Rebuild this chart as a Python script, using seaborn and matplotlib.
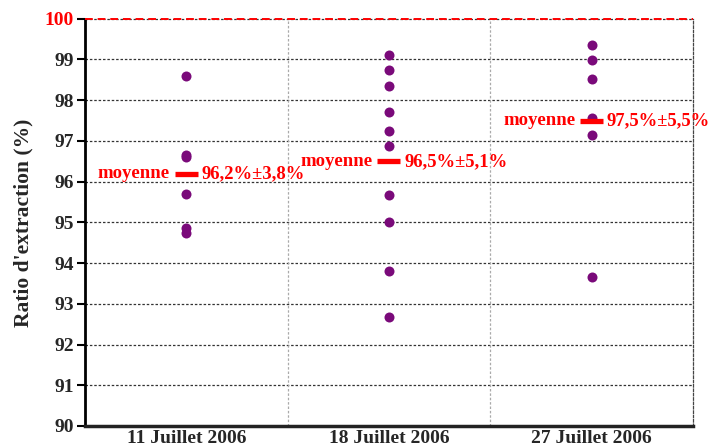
import numpy as np
import pandas as pd
import matplotlib
matplotlib.use("Agg")
import matplotlib.pyplot as plt
import seaborn as sns

# Extraction ratios (%) per sampling day
dates = ["11 Juillet 2006", "18 Juillet 2006", "27 Juillet 2006"]
ratios_11 = [98.6, 96.65, 96.6, 95.7, 94.85, 94.75]
ratios_18 = [99.12, 98.73, 98.35, 97.7, 97.25, 96.88, 95.68, 95.02, 93.81, 92.68]
ratios_27 = [99.36, 98.98, 98.52, 97.56, 97.15, 93.67]
means = [96.2, 96.5, 97.5]
spreads = [3.8, 5.1, 5.5]
yticks = [90, 91, 92, 93, 94, 95, 96, 97, 98, 99, 100]

df = pd.DataFrame({
    "date": [dates[0]] * len(ratios_11) + [dates[1]] * len(ratios_18) + [dates[2]] * len(ratios_27),
    "ratio": ratios_11 + ratios_18 + ratios_27,
})

sns.set_style("white")
plt.rcParams["font.family"] = ["Liberation Serif", "DejaVu Serif"]

fig = plt.figure(figsize=(7.11, 4.47), dpi=100)
ax = fig.add_axes([0.1195, 0.047, 0.855, 0.911])

purple = "#7a0a7a"
red = "#ff0000"

sns.stripplot(data=df, x="date", y="ratio", order=dates, jitter=False,
              color=purple, size=7.2, linewidth=0, ax=ax, zorder=4)

# mean bars with annotations
for i, (m, s) in enumerate(zip(means, spreads)):
    ax.plot([i - 0.057, i + 0.057], [m, m], color=red, lw=3.8,
            solid_capstyle="butt", zorder=5)
    ax.text(i - 0.08, m, "moyenne", color=red, fontsize=13.5,
            fontweight="bold", ha="right", va="center", zorder=6)
    ax.text(i + 0.075, m, f"{m:.1f}%±{s:.1f}%".replace(".", ","), color=red,
            fontsize=13.4, fontweight="bold", ha="left", va="center", zorder=6)

ax.set_xlim(-0.5, 2.5)
ax.set_ylim(90, 100)
ax.set_yticks(yticks)

# horizontal dotted grid
for y in yticks[1:-1]:
    ax.axhline(y, color="#333333", lw=0.9, ls=(0, (2, 1.5)), zorder=1)
ax.axhline(100, color="#333333", lw=0.9, ls=(0, (2, 1.5)), zorder=2, clip_on=False)
ax.axhline(100, color=red, lw=1.4, ls=(0, (4, 2.5)), zorder=3, clip_on=False)
# category separators
for xv in [0.5, 1.5]:
    ax.axvline(xv, color="#aaaaaa", lw=0.9, ls=(0, (2, 1.5)), zorder=1)

ax.spines["top"].set_visible(False)
ax.spines["right"].set_color("#444444")
ax.spines["right"].set_linestyle((0, (2, 1.5)))
ax.spines["right"].set_linewidth(0.9)
ax.spines["left"].set_color("black")
ax.spines["left"].set_linewidth(2)
ax.spines["bottom"].set_color("#222222")
ax.spines["bottom"].set_linewidth(2.5)

ax.tick_params(axis="y", direction="out", length=6, width=1.5, color="black",
               left=True, labelsize=14, pad=2)
ax.tick_params(axis="x", length=0, labelsize=14, pad=3)
for lab in ax.get_yticklabels() + ax.get_xticklabels():
    lab.set_fontweight("bold")
ax.get_yticklabels()[-1].set_color(red)

ax.set_xlabel("")
ax.set_ylabel("Ratio d'extraction (%)", fontsize=15.5, fontweight="bold", labelpad=8)

fig.savefig("out.png", dpi=100)
